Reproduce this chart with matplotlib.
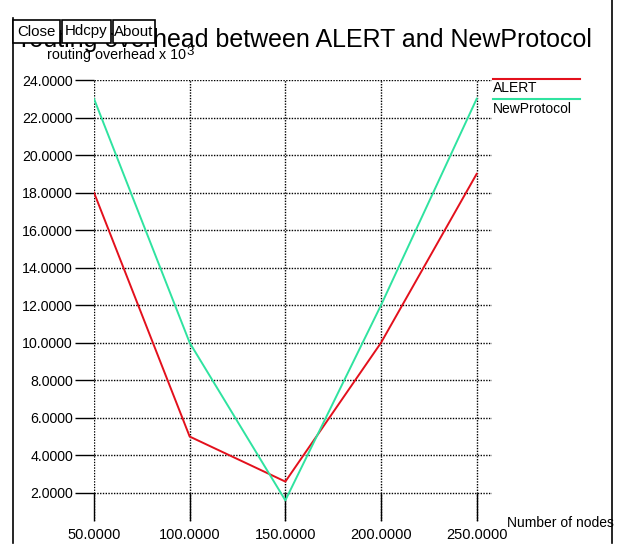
import matplotlib.pyplot as plt
from matplotlib.patches import Rectangle
from matplotlib.lines import Line2D

nodes = [50, 100, 150, 200, 250]
alert = [18.0, 5.0, 2.6, 10.0, 19.0]
new_protocol = [23.0, 10.0, 1.6, 12.0, 23.0]
y_ticks = [2, 4, 6, 8, 10, 12, 14, 16, 18, 20, 22, 24]

RED = "#e3101c"
GREEN = "#2fe3a0"
FONT = ["Liberation Sans", "DejaVu Sans"]
W, H = 630, 558


def px(x, y):
    # pixel coords (top-left origin) -> figure fraction
    return x / W, 1 - y / H


fig = plt.figure(figsize=(6.3, 5.58), dpi=100)
fig.patch.set_facecolor("white")

# axes box: x=50 at px 94, right edge px 492; y=24 at px 80, bottom px 521
left, top = px(94, 80)
right, bottom = px(492, 521)
ax = fig.add_axes([left, bottom, right - left, top - bottom])
ax.set_xlim(50, 258)
ax.set_ylim(0.5, 24)

ax.plot(nodes, alert, color=RED, linewidth=1.4, label="ALERT", zorder=3)
ax.plot(nodes, new_protocol, color=GREEN, linewidth=1.4, label="NewProtocol", zorder=3)

for s in ax.spines.values():
    s.set_visible(False)
ax.set_xticks(nodes)
ax.set_yticks(y_ticks)
ax.grid(True, color="black", linestyle=(0, (1, 1)), linewidth=1.0, zorder=1)
ax.tick_params(axis="y", direction="out", length=13.7, width=1.0, pad=1.5)
ax.tick_params(axis="x", direction="in", length=20, width=1.0, pad=5)
ax.set_xticklabels([f"{v:.4f}" for v in nodes], fontsize=10.5, family=FONT)
ax.set_yticklabels([f"{v:.4f}" for v in y_ticks], fontsize=10.2, family=FONT)

# window frame (left and right borders)
fig.add_artist(Line2D([13 / W, 13 / W], [1 - 18 / H, 1 - 543 / H], color="black", linewidth=1.2))
fig.add_artist(Line2D([612 / W, 612 / W], [1, 1 - 543 / H], color="black", linewidth=1.2))

# title and axis labels
fig.text(*px(21, 47), "routing overhead between ALERT and NewProtocol",
         fontsize=18, family=FONT, va="baseline")
fig.text(*px(47, 59), "routing overhead x 10", fontsize=10.3, family=FONT, va="baseline")
fig.text(*px(186, 55), "3", fontsize=9.5, family=FONT, va="baseline")
fig.text(*px(507, 527), "Number of nodes", fontsize=10, family=FONT, va="baseline")

# legend
fig.add_artist(Line2D([493 / W, 580 / W], [1 - 79 / H] * 2, color=RED, linewidth=1.5))
fig.text(*px(493, 92), "ALERT", fontsize=10, family=FONT, va="baseline")
fig.add_artist(Line2D([493 / W, 580 / W], [1 - 99 / H] * 2, color=GREEN, linewidth=1.5))
fig.text(*px(493, 113), "NewProtocol", fontsize=10, family=FONT, va="baseline")

# buttons
for x0, x1, label in [(13, 60, "Close"), (62, 111, "Hdcpy"), (113, 155, "About")]:
    bx, by = px(x0, 43)
    fig.add_artist(Rectangle((bx, by), (x1 - x0) / W, 23 / H, transform=fig.transFigure,
                             facecolor="white", edgecolor="black", linewidth=1.2, zorder=5))
    fig.text((x0 + x1) / 2 / W, 1 - 31.5 / H, label, fontsize=10.8, family=FONT,
             ha="center", va="center", zorder=6)

fig.savefig("out.png", dpi=100)
